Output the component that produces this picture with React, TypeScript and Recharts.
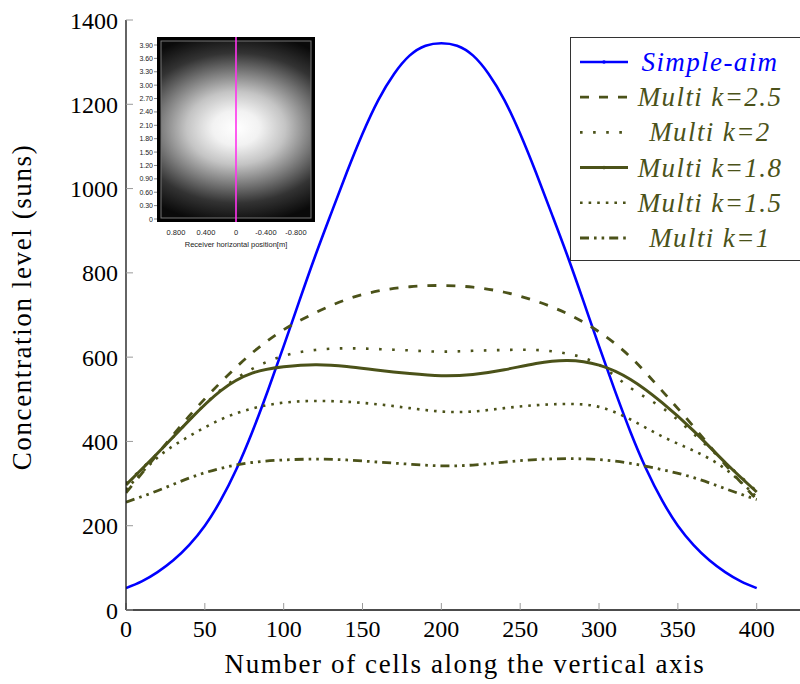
import React from "react";
import { Legend, Line, LineChart, XAxis, YAxis } from "recharts";

// cell positions along the vertical axis
const cellsFine = [
  0, 10, 20, 30, 40, 50, 60, 70, 80, 90, 100, 110, 120, 130, 140, 150, 160, 170, 180, 190, 200,
  210, 220, 230, 240, 250, 260, 270, 280, 290, 300, 310, 320, 330, 340, 350, 360, 370, 380, 390, 400,
];
const cellsCoarse = [
  0, 20, 40, 60, 80, 100, 120, 140, 160, 180, 200, 220, 240, 260, 280, 300, 320, 340, 360, 380, 400,
];

// concentration (suns)
const simpleAim = [
  52, 68, 90, 118, 154, 200, 260, 334, 422, 521, 626, 734, 840, 940, 1038, 1130, 1210, 1272, 1316, 1339, 1345,
  1339, 1316, 1272, 1210, 1130, 1038, 940, 840, 734, 626, 521, 422, 334, 260, 200, 154, 118, 90, 68, 52,
];
const multiK25 = [278, 370, 460, 540, 610, 665, 705, 737, 757, 767, 770, 766, 754, 733, 703, 660, 600, 520, 435, 345, 262];
const multiK2 = [300, 372, 450, 522, 572, 603, 617, 621, 619, 616, 613, 615, 617, 617, 608, 582, 527, 480, 418, 350, 282];
const multiK18 = [297, 372, 450, 520, 562, 577, 582, 578, 569, 561, 556, 559, 570, 585, 592, 581, 547, 492, 425, 350, 280];
const multiK15 = [285, 362, 412, 452, 478, 492, 496, 494, 488, 479, 471, 471, 479, 486, 489, 482, 452, 412, 378, 335, 268];
const multiK1 = [256, 283, 313, 336, 350, 356, 358, 356, 351, 346, 342, 344, 351, 357, 359, 357, 348, 333, 314, 288, 262];

const xTicks = [0, 50, 100, 150, 200, 250, 300, 350, 400];
const yTicks = [0, 200, 400, 600, 800, 1000, 1200, 1400];

// inset image (receiver flux map) labels
const insetYLabels = ["3.90", "3.60", "3.30", "3.00", "2.70", "2.40", "2.10", "1.80", "1.50", "1.20", "0.90", "0.60", "0.30", "0"];
const insetXLabels = ["0.800", "0.400", "0", "-0.400", "-0.800"];

const BLUE = "#0000ff";
const OLIVE = "#4b5219";
const SERIF = "'Liberation Serif', 'DejaVu Serif', serif";
const SANS = "'Liberation Sans', Arial, sans-serif";

const toPoints = (cells: number[], values: number[]) =>
  cells.map((cell, i) => ({ cell, value: values[i] }));

const series = [
  { name: "Simple-aim", data: toPoints(cellsFine, simpleAim), color: BLUE, width: 2.6, dash: undefined, mark: true },
  { name: "Multi k=2.5", data: toPoints(cellsCoarse, multiK25), color: OLIVE, width: 2.8, dash: "9 10", mark: false },
  { name: "Multi k=2", data: toPoints(cellsCoarse, multiK2), color: OLIVE, width: 2.6, dash: "2.6 10.5", mark: false },
  { name: "Multi k=1.8", data: toPoints(cellsCoarse, multiK18), color: OLIVE, width: 3, dash: undefined, mark: true },
  { name: "Multi k=1.5", data: toPoints(cellsCoarse, multiK15), color: OLIVE, width: 2.6, dash: "2.6 6", mark: false },
  { name: "Multi k=1", data: toPoints(cellsCoarse, multiK1), color: OLIVE, width: 2.8, dash: "9 5 2.6 5 2.6 5", mark: false },
];

function LegendBox() {
  return (
    <div style={{ width: 260, height: 224, border: "1.3px solid #333", background: "#fff", boxSizing: "border-box" }}>
      <svg width={258} height={222} style={{ display: "block" }}>
        {series.map((s, i) => {
          const y = 24 + i * 35.2;
          return (
            <g key={s.name}>
              <line x1={9} x2={57} y1={y} y2={y} stroke={s.color} strokeWidth={s.width} strokeDasharray={s.dash} />
              {s.mark ? <circle cx={33} cy={y} r={1.8} fill={s.color} /> : null}
              <text
                x={139}
                y={y}
                textAnchor="middle"
                dominantBaseline="central"
                fill={s.color}
                fontFamily={SERIF}
                fontStyle="italic"
                fontSize={27}
                letterSpacing={1.4}
              >
                {s.name}
              </text>
            </g>
          );
        })}
      </svg>
    </div>
  );
}

function Inset() {
  const top = 45;
  const step = 174 / 13;
  return (
    <svg width={330} height={250} style={{ position: "absolute", left: 0, top: 0, pointerEvents: "none" }}>
      <defs>
        <radialGradient id="fluxSpot" gradientUnits="userSpaceOnUse" cx={236} cy={128} r={130} gradientTransform="translate(236 128) scale(1 0.74) translate(-236 -128)">
          <stop offset="0" stopColor="#ffffff" />
          <stop offset="0.18" stopColor="#f2f2f2" />
          <stop offset="0.38" stopColor="#c4c4c4" />
          <stop offset="0.58" stopColor="#7c7c7c" />
          <stop offset="0.78" stopColor="#333333" />
          <stop offset="1" stopColor="#0a0a0a" />
        </radialGradient>
      </defs>
      <rect x={157} y={37} width={158} height={185} fill="#000" />
      <rect x={161} y={41} width={150} height={177} fill="url(#fluxSpot)" stroke="#777" strokeWidth={1} />
      <line x1={236} x2={236} y1={37} y2={222} stroke="#ff33ee" strokeWidth={1.6} />
      {insetYLabels.map((label, i) => (
        <g key={label}>
          <line x1={154} x2={157} y1={top + i * step} y2={top + i * step} stroke="#333" strokeWidth={0.6} />
          <text x={153} y={top + i * step} textAnchor="end" dominantBaseline="central" fontFamily={SANS} fontSize={7} fill="#222">
            {label}
          </text>
        </g>
      ))}
      {insetXLabels.map((label, i) => (
        <text key={label} x={176 + i * 30} y={232} textAnchor="middle" dominantBaseline="central" fontFamily={SANS} fontSize={7.5} fill="#222">
          {label}
        </text>
      ))}
      <text x={236} y={244} textAnchor="middle" dominantBaseline="central" fontFamily={SANS} fontSize={7.5} fill="#222">
        Receiver horizontal position[m]
      </text>
    </svg>
  );
}

function XLabel(props: any) {
  const { viewBox } = props;
  return (
    <text
      x={viewBox.x + viewBox.width / 2}
      y={viewBox.y + 63}
      textAnchor="middle"
      fontFamily={SERIF}
      fontSize={27}
      letterSpacing={1.6}
      fill="#000"
    >
      Number of cells along the vertical axis
    </text>
  );
}

function YLabel(props: any) {
  const { viewBox } = props;
  const x = viewBox.x + 31;
  const y = viewBox.y + viewBox.height / 2 - 8;
  return (
    <text
      x={x}
      y={y}
      transform={`rotate(-90 ${x} ${y})`}
      textAnchor="middle"
      fontFamily={SERIF}
      fontSize={27}
      letterSpacing={1.6}
      fill="#000"
    >
      Concentration level (suns)
    </text>
  );
}

export default function App() {
  const axisLine = { stroke: "#111", strokeWidth: 1.3 };
  const tickLine = { stroke: "#9a9a9a", strokeWidth: 1 };
  const tickFont = { fill: "#000", fontSize: 24, fontFamily: SERIF, style: { fontFamily: SERIF } };
  return (
    <div
      style={{
        position: "absolute",
        left: 0,
        top: 0,
        width: 800,
        height: 684,
        overflow: "hidden",
        background: "#fff",
        fontFamily: SERIF,
      }}
    >
      <LineChart width={804} height={684} margin={{ top: 20, right: 0, bottom: 0, left: 0 }} style={{ fontFamily: SERIF }}>
        <XAxis
          xAxisId="main"
          type="number"
          dataKey="cell"
          domain={[0, 430]}
          allowDataOverflow
          ticks={xTicks}
          height={74}
          tickSize={-7}
          tickMargin={17}
          axisLine={axisLine}
          tickLine={tickLine}
          tick={tickFont}
          label={<XLabel />}
        />
        <XAxis
          xAxisId="top"
          orientation="top"
          type="number"
          domain={[0, 430]}
          allowDataOverflow
          ticks={xTicks}
          height={0}
          tickSize={-7}
          axisLine={axisLine}
          tickLine={tickLine}
          tick={false}
        />
        <YAxis
          yAxisId="main"
          type="number"
          domain={[0, 1400]}
          allowDataOverflow
          ticks={yTicks}
          width={126}
          tickSize={-7}
          tickMargin={15}
          axisLine={axisLine}
          tickLine={tickLine}
          tick={tickFont}
          label={<YLabel />}
        />
        <YAxis
          yAxisId="right"
          orientation="right"
          type="number"
          domain={[0, 1400]}
          allowDataOverflow
          ticks={yTicks}
          width={0}
          tickSize={-7}
          axisLine={axisLine}
          tickLine={tickLine}
          tick={false}
        />
        <Legend
          layout="vertical"
          align="center"
          verticalAlign="middle"
          content={<LegendBox />}
          wrapperStyle={{ left: 570, top: 37, width: 260, height: 224 }}
        />
        {series.map((s) => (
          <Line
            key={s.name}
            xAxisId="main"
            yAxisId="main"
            data={s.data}
            dataKey="value"
            name={s.name}
            type="natural"
            stroke={s.color}
            strokeWidth={s.width}
            strokeDasharray={s.dash}
            dot={false}
            activeDot={false}
            isAnimationActive={false}
          />
        ))}
      </LineChart>
      <Inset />
    </div>
  );
}
